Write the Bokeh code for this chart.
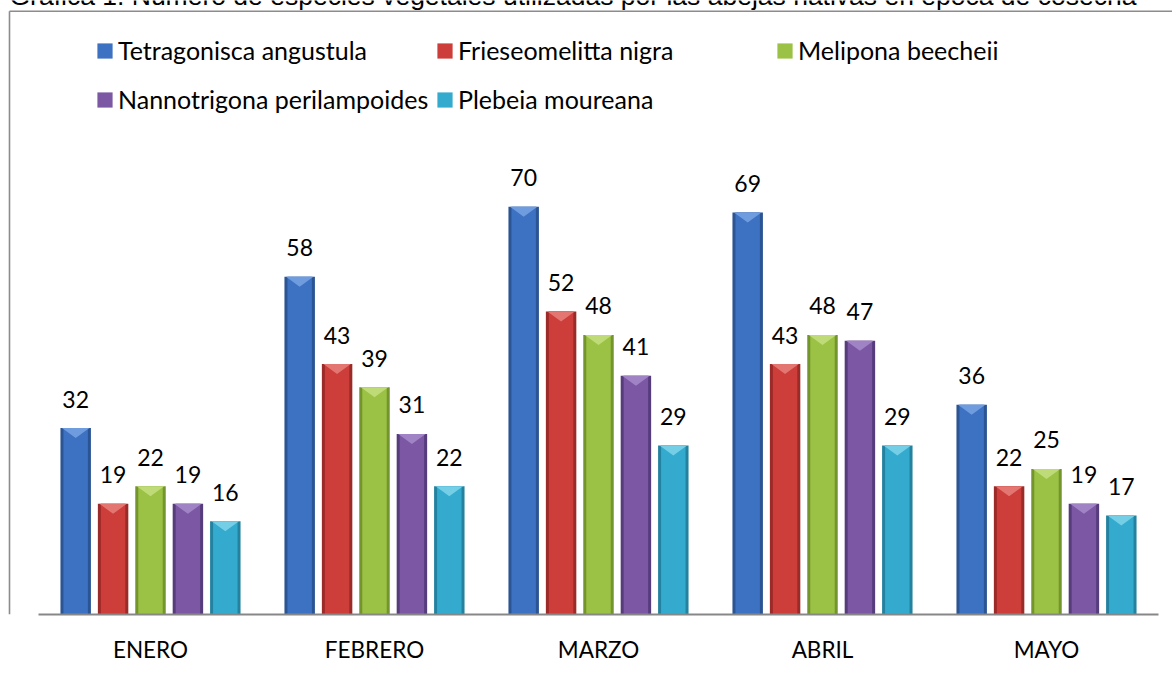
from bokeh.plotting import figure
from bokeh.models import (ColumnDataSource, Range1d, FixedTicker, Legend, LegendItem,
                          Label)
from bokeh.transform import dodge
from bokeh.core.properties import value
from bokeh.embed import file_html
from bokeh.resources import INLINE

# ---------------- data ----------------
title = "Gráfica 1. Número de especies vegetales utilizadas por las abejas nativas en época de cosecha"
months = ["ENERO", "FEBRERO", "MARZO", "ABRIL", "MAYO"]
species = ["Tetragonisca angustula", "Frieseomelitta nigra", "Melipona beecheii",
           "Nannotrigona perilampoides", "Plebeia moureana"]
tetragonisca = [32, 58, 70, 69, 36]
frieseomelitta = [19, 43, 52, 43, 22]
melipona = [22, 39, 48, 48, 25]
nannotrigona = [19, 31, 41, 47, 19]
plebeia = [16, 22, 29, 29, 17]
series = [tetragonisca, frieseomelitta, melipona, nannotrigona, plebeia]

# ---------------- styles ----------------
fill_colors = ["#3d71c1", "#cd3d39", "#9bc244", "#7c58a4", "#34abce"]
edge_colors = ["#2a5494", "#9a2b28", "#74942f", "#573c7c", "#23829f"]
cap_colors = ["#78a3e4", "#e7807b", "#c4df80", "#a78bcb", "#80d3ea"]
FONT = "Lato"
GRAY = "#8c8c8c"

W, H = 1172, 675
FRAME_H = 614
BOTTOM = H - FRAME_H
PX_MONTH = 224.0
PX_UNIT = 5.825
x_start = -150.0 / PX_MONTH
x_end = x_start + W / PX_MONTH
x_range = Range1d(x_start, x_end)
y_range = Range1d(0, FRAME_H / PX_UNIT)

p = figure(width=W, height=H, x_range=x_range, y_range=y_range,
           output_backend="svg", toolbar_location=None, y_axis_location=None,
           min_border_left=0, min_border_right=0, min_border_top=0,
           min_border_bottom=BOTTOM, outline_line_color=None,
           background_fill_color="white", border_fill_color="white")
p.grid.visible = False

# x axis (category labels)
ax = p.xaxis[0]
ax.ticker = FixedTicker(ticks=list(range(len(months))))
ax.major_label_overrides = {i: m for i, m in enumerate(months)}
ax.major_tick_line_color = None
ax.minor_tick_line_color = None
ax.major_tick_out = 0
ax.major_tick_in = 0
ax.axis_line_color = "#878787"
ax.axis_line_width = 2
ax.bounds = (-0.5, len(months) - 0.5)
ax.major_label_standoff = 21
ax.major_label_text_font = FONT
ax.major_label_text_font_size = "22.5px"
ax.major_label_text_color = "black"

# outer chart frame: only its top and left edges are visible in the reference
box_left = x_start + 9.0 / PX_MONTH
box_top = (FRAME_H - 10.7) / PX_UNIT
p.segment(x0=[box_left, box_left], y0=[box_top, box_top],
          x1=[box_left, x_end], y1=[0, box_top],
          line_color=GRAY, line_width=1.6)

step = 0.167
bw = 0.136
cap_depth = 10.0 / PX_UNIT
renderers = []
for j, vals in enumerate(series):
    xs_idx = list(range(len(months)))
    src = ColumnDataSource(dict(x=xs_idx, top=vals, label=[str(v) for v in vals]))
    off = (j - 2) * step
    p.vbar(x=dodge("x", off, range=p.x_range), top="top", width=bw, source=src,
           fill_color=edge_colors[j], line_color=None)
    r = p.vbar(x=dodge("x", off, range=p.x_range), top="top", width=bw - 6 / PX_MONTH,
               source=src, fill_color=fill_colors[j], line_color=None)
    renderers.append(r)
    # bevel highlight at the top of each bar (derived from the bar's value)
    hw = bw / 2 - 1.5 / PX_MONTH
    cap_xs = [[i + off - hw, i + off + hw, i + off] for i in xs_idx]
    cap_ys = [[v, v, v - cap_depth] for v in vals]
    p.patches(xs=cap_xs, ys=cap_ys, fill_color=cap_colors[j], fill_alpha=0.85,
              line_color=None)
    p.text(x=dodge("x", off, range=p.x_range), y="top", text="label", source=src,
           text_align="center", text_baseline="alphabetic", y_offset=-29,
           text_font=value(FONT), text_font_size="23px", text_color="black")

# legends: three columns
def make_legend(idx, loc):
    items = [LegendItem(label=species[i], renderers=[renderers[i]]) for i in idx]
    leg = Legend(items=items, location=loc, orientation="vertical", spacing=19,
                 padding=0, margin=0, border_line_color=None,
                 background_fill_alpha=0, glyph_width=19, glyph_height=19,
                 label_standoff=4, label_text_font=FONT, label_text_font_size="25px",
                 label_text_color="black")
    p.add_layout(leg)

make_legend([0, 3], (95, 500))
make_legend([1, 4], (435, 500))
make_legend([2], (775, 549))

# title, clipped at the top as in the reference
p.add_layout(Label(x=x_start + 9.0 / PX_MONTH, y=(FRAME_H + 5) / PX_UNIT, text=title,
                   text_font="Liberation Sans", text_font_size="26.5px",
                   text_baseline="alphabetic", text_color="black"))

open("out.html", "w").write(file_html(p, INLINE))
